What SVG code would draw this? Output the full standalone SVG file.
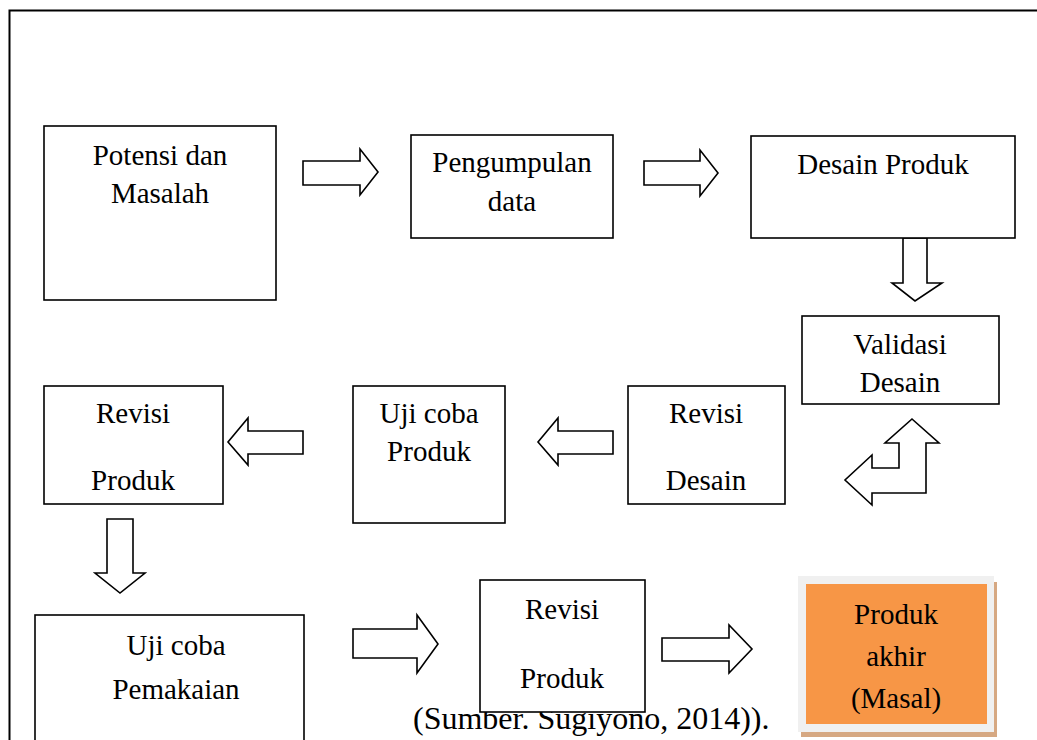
<svg xmlns="http://www.w3.org/2000/svg" width="1037" height="740" viewBox="0 0 1037 740">
  <style>
    .box { fill: #ffffff; stroke: #000000; stroke-width: 1.6; }
    .arrow { fill: #ffffff; stroke: #000000; stroke-width: 1.6; stroke-linejoin: miter; }
    .lbl { font-family: "Liberation Serif", "Times New Roman", serif; font-size: 29px; fill: #000000; text-anchor: middle; }
    .cap { font-family: "Liberation Serif", "Times New Roman", serif; font-size: 32px; fill: #000000; }
  </style>

  <rect x="0" y="0" width="1037" height="740" fill="#ffffff"/>
  <!-- page frame -->
  <rect x="9.5" y="10.5" width="1040" height="760" fill="none" stroke="#000000" stroke-width="2"/>

  <!-- source caption (partly covered by the box above it) -->
  <text class="cap" x="413" y="729">(Sumber. Sugiyono, 2014)).</text>

  <g id="connectors">
    <polygon class="arrow" points="303,161 360,161 360,149 378,172 360,195 360,185 303,185"/>
    <polygon class="arrow" points="644,161 700,161 700,150 718,173 700,196 700,185 644,185"/>
    <polygon class="arrow" points="903,238 927,238 927,283 942,283 915,301 892,283 903,283"/>
    <polygon class="arrow" points="912,419 939,443 926,443 926,493 872,493 872,505 845,480 872,455 872,468 899,468 899,443 885,443"/>
    <polygon class="arrow" points="613,431 558,431 558,418 538,442 558,465 558,454 613,454"/>
    <polygon class="arrow" points="303,431 248,431 248,418 228,442 248,465 248,454 303,454"/>
    <polygon class="arrow" points="107,519 133,519 133,573 145,573 120,593 95,573 107,573"/>
    <polygon class="arrow" points="353,629 417,629 417,615 438,644 417,673 417,658 353,658"/>
    <polygon class="arrow" points="662,638 729,638 729,625 752,649 729,673 729,661 662,661"/>
  </g>

  <g id="potensi-masalah">
    <rect class="box" x="44" y="126" width="232" height="174"/>
    <text class="lbl" x="160" y="165">Potensi dan</text>
    <text class="lbl" x="160" y="203">Masalah</text>
  </g>

  <g id="pengumpulan-data">
    <rect class="box" x="411" y="135" width="202" height="103"/>
    <text class="lbl" x="512" y="172">Pengumpulan</text>
    <text class="lbl" x="512" y="211">data</text>
  </g>

  <g id="desain-produk">
    <rect class="box" x="751" y="136" width="264" height="102"/>
    <text class="lbl" x="883" y="174">Desain Produk</text>
  </g>

  <g id="validasi-desain">
    <rect class="box" x="802" y="316" width="197" height="88"/>
    <text class="lbl" x="900" y="354">Validasi</text>
    <text class="lbl" x="900" y="392">Desain</text>
  </g>

  <g id="revisi-desain">
    <rect class="box" x="628" y="386" width="157" height="118"/>
    <text class="lbl" x="706" y="423">Revisi</text>
    <text class="lbl" x="706" y="490">Desain</text>
  </g>

  <g id="uji-coba-produk">
    <rect class="box" x="353" y="386" width="152" height="137"/>
    <text class="lbl" x="429" y="423">Uji coba</text>
    <text class="lbl" x="429" y="461">Produk</text>
  </g>

  <g id="revisi-produk-1">
    <rect class="box" x="44" y="386" width="179" height="118"/>
    <text class="lbl" x="133" y="423">Revisi</text>
    <text class="lbl" x="133" y="490">Produk</text>
  </g>

  <g id="uji-coba-pemakaian">
    <rect class="box" x="35" y="615" width="269" height="140"/>
    <text class="lbl" x="176" y="655">Uji coba</text>
    <text class="lbl" x="176" y="699">Pemakaian</text>
  </g>

  <g id="revisi-produk-2">
    <rect class="box" x="480" y="580" width="165" height="132"/>
    <text class="lbl" x="562" y="619">Revisi</text>
    <text class="lbl" x="562" y="688">Produk</text>
  </g>

  <g id="produk-akhir">
    <rect x="801" y="582" width="196" height="155" fill="#d6a882"/>
    <rect x="798" y="576" width="196" height="156" fill="#f0f0f0"/>
    <rect x="806" y="584" width="181" height="140" fill="#f79646"/>
    <text class="lbl" x="896" y="624">Produk</text>
    <text class="lbl" x="896" y="666">akhir</text>
    <text class="lbl" x="896" y="708">(Masal)</text>
  </g>
</svg>
